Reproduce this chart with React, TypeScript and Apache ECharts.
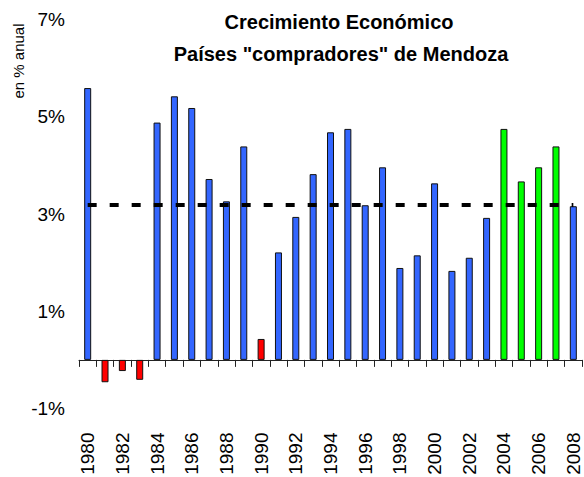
import React, { useEffect, useRef } from "react";
import * as echarts from "echarts";

const years = [
  "1980", "1981", "1982", "1983", "1984", "1985", "1986", "1987", "1988", "1989",
  "1990", "1991", "1992", "1993", "1994", "1995", "1996", "1997", "1998", "1999",
  "2000", "2001", "2002", "2003", "2004", "2005", "2006", "2007", "2008",
];
const growth = [
  5.59, -0.46, -0.23, -0.41, 4.88, 5.42, 5.18, 3.72, 3.26, 4.39,
  0.43, 2.21, 2.94, 3.82, 4.68, 4.75, 3.18, 3.96, 1.89, 2.15,
  3.63, 1.83, 2.10, 2.92, 4.75, 3.67, 3.96, 4.39, 3.16,
];
const redYears = ["1981", "1982", "1983", "1990"];
const greenYears = ["2004", "2005", "2006", "2007"];
const average = 3.19;
const yTicks = [-1, 1, 3, 5, 7];
const titleLines = ["Crecimiento Económico", 'Países "compradores" de Mendoza'];
const yName = "en % anual";

const FONT = "'Liberation Sans', Arial, sans-serif";

export default function App() {
  const ref = useRef<HTMLDivElement>(null);
  useEffect(() => {
    if (!ref.current) return;
    const chart = echarts.init(ref.current, null, { renderer: "svg" });
    const colorFor = (y: string) =>
      redYears.includes(y) ? "#FF0000" : greenYears.includes(y) ? "#00FF00" : "#3366FF";
    chart.setOption({
      animation: false,
      backgroundColor: "#ffffff",
      textStyle: { fontFamily: FONT },
      graphic: [
        {
          type: "text",
          x: 339,
          y: 22,
          style: {
            text: titleLines[0],
            font: `bold 20px ${FONT}`,
            fill: "#000",
            textAlign: "center",
            textVerticalAlign: "middle",
          },
        },
        {
          type: "text",
          x: 341,
          y: 54,
          style: {
            text: titleLines[1],
            font: `bold 20px ${FONT}`,
            fill: "#000",
            textAlign: "center",
            textVerticalAlign: "middle",
          },
        },
        {
          type: "text",
          x: 18,
          y: 61,
          rotation: Math.PI / 2,
          style: {
            text: yName,
            font: `15px ${FONT}`,
            fill: "#000",
            textAlign: "center",
            textVerticalAlign: "middle",
          },
        },
      ],
      grid: {
        left: 79,
        right: 2,
        top: 19.5,
        bottom: 68.5,
        containLabel: false,
        outerBoundsMode: "none",
      },
      xAxis: {
        type: "category",
        data: years,
        boundaryGap: true,
        axisLine: { onZero: true, lineStyle: { color: "#222", width: 1 } },
        axisTick: { show: true, interval: 0, length: 7, lineStyle: { color: "#222" } },
        axisLabel: {
          interval: 1,
          rotate: 90,
          margin: 24,
          fontSize: 19,
          color: "#000",
          fontFamily: FONT,
          hideOverlap: false,
        },
        splitLine: { show: false },
      },
      yAxis: {
        type: "value",
        min: yTicks[0],
        max: yTicks[yTicks.length - 1],
        interval: 2,
        axisLine: { show: false },
        axisTick: { show: false },
        splitLine: { show: false },
        axisLabel: {
          margin: 14,
          fontSize: 19,
          color: "#000",
          fontFamily: FONT,
          formatter: (v: number) => `${v}%`,
        },
      },
      series: [
        {
          type: "bar",
          barWidth: 7,
          data: growth.map((v, i) => ({
            value: v,
            itemStyle: { color: colorFor(years[i]) },
          })),
          itemStyle: { borderColor: "#111", borderWidth: 1 },
          markLine: {
            silent: true,
            symbol: "none",
            label: { show: false },
            lineStyle: { color: "#000", width: 4, type: [9, 13] },
            data: [
              [
                { coord: [years[0], average] },
                { coord: [years[years.length - 1], average] },
              ],
            ],
          },
        },
      ],
    });
    return () => chart.dispose();
  }, []);
  return (
    <div
      ref={ref}
      style={{ position: "fixed", left: 0, top: 0, width: 584, height: 477, background: "#fff" }}
    />
  );
}
